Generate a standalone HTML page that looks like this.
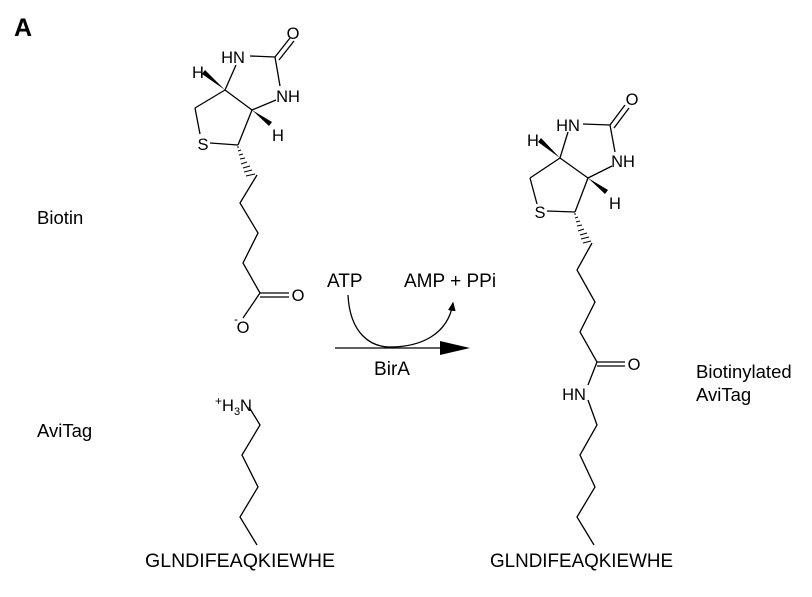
<!DOCTYPE html>
<html><head><style>
body{margin:0;background:#fff;}
svg text{font-family:"Liberation Sans",sans-serif;fill:#000;}
</style></head><body>
<svg width="812" height="592" viewBox="0 0 812 592" xmlns="http://www.w3.org/2000/svg">
<defs><marker id="ah" markerWidth="8" markerHeight="8" refX="6" refY="4" orient="auto"><path d="M0,1 L7,4 L0,7 z" fill="#000"/></marker></defs>
<text x="14" y="36" font-size="25" font-weight="bold">A</text>
<text x="37" y="224" font-size="18.5">Biotin</text>
<text x="37" y="437" font-size="18.5">AviTag</text>
<text x="696" y="378" font-size="18.5">Biotinylated</text>
<text x="696" y="401" font-size="18.5">AviTag</text>

<g stroke="#000" stroke-width="1.3" fill="none">
<line x1="250" y1="56" x2="275" y2="57"/>
<line x1="275" y1="57" x2="290" y2="38"/><line x1="279" y1="60" x2="294" y2="41"/>
<line x1="275" y1="57" x2="280" y2="86"/>
<line x1="276" y1="100" x2="252" y2="110"/>
<line x1="225" y1="90" x2="236" y2="65"/>
<line x1="225" y1="90" x2="252" y2="110"/>
<line x1="225" y1="90" x2="195" y2="108"/>
<line x1="195" y1="108" x2="200" y2="134"/>
<line x1="210" y1="143" x2="238" y2="145"/>
<line x1="252" y1="110" x2="238" y2="145"/>
<polyline points="257,175 240,203 258,233 243,263 260,293 243,318"/>
<line x1="260" y1="293" x2="289" y2="293"/><line x1="260" y1="297" x2="289" y2="297"/>
<line x1="583" y1="124" x2="610" y2="125"/>
<line x1="610" y1="125" x2="625" y2="105"/><line x1="614" y1="128" x2="629" y2="108"/>
<line x1="610" y1="125" x2="615" y2="152"/>
<line x1="612" y1="166" x2="588" y2="178"/>
<line x1="560" y1="158" x2="568" y2="132"/>
<line x1="560" y1="158" x2="588" y2="178"/>
<line x1="560" y1="158" x2="530" y2="178"/>
<line x1="530" y1="178" x2="537" y2="204"/>
<line x1="547" y1="211" x2="575" y2="212"/>
<line x1="588" y1="178" x2="575" y2="212"/>
<polyline points="592,243 577,270 595,302 580,332 597,362 588,385"/>
<line x1="597" y1="362" x2="625" y2="362"/><line x1="597" y1="366" x2="625" y2="366"/>
<polyline points="588,400 597,425 580,455 595,487 577,517 594,545"/>
<polyline points="249,407 260,425 242,455 258,487 240,517 257,545"/>
<line x1="335" y1="348" x2="448" y2="348"/>
<path d="M348,295 C350,335 372,347 390,347 C420,347 448,335 453,303" marker-end="url(#ah)"/>
</g>
<path d="M440,341 L470,348 L440,355 z" fill="#000"/>
<path d="M225,90 L202,74 L205,70 z" fill="#000"/>
<path d="M252,110 L272,122 L269,126 z" fill="#000"/>
<path d="M560,158 L538,142 L541,138 z" fill="#000"/>
<path d="M588,178 L608,190 L605,194 z" fill="#000"/>
<g stroke="#000" stroke-width="1">
<line x1="239" y1="147" x2="237" y2="147"/><line x1="241" y1="150" x2="238" y2="151"/><line x1="243" y1="154" x2="239" y2="155"/><line x1="245" y1="158" x2="240" y2="159"/><line x1="247" y1="162" x2="241" y2="164"/><line x1="250" y1="166" x2="243" y2="168"/><line x1="252" y1="170" x2="244" y2="172"/><line x1="255" y1="174" x2="246" y2="176"/>
<line x1="576" y1="214" x2="574" y2="214"/><line x1="578" y1="217" x2="575" y2="218"/><line x1="580" y1="221" x2="576" y2="222"/><line x1="582" y1="225" x2="577" y2="226"/><line x1="584" y1="229" x2="578" y2="231"/><line x1="587" y1="233" x2="580" y2="235"/><line x1="589" y1="237" x2="581" y2="239"/><line x1="591" y1="241" x2="583" y2="243"/>
</g>
<g font-size="16.5">
<text x="233" y="63" text-anchor="middle">HN</text>
<text x="293" y="39" text-anchor="middle">O</text>
<text x="288" y="102" text-anchor="middle">NH</text>
<text x="198" y="78" text-anchor="middle">H</text>
<text x="278" y="141" text-anchor="middle">H</text>
<text x="203" y="150" text-anchor="middle">S</text>
<text x="298" y="301" text-anchor="middle">O</text>
<text x="243" y="333" text-anchor="middle">O</text>
<text x="234" y="323" font-size="12">-</text>
<text x="568" y="131" text-anchor="middle">HN</text>
<text x="632" y="105" text-anchor="middle">O</text>
<text x="623" y="167" text-anchor="middle">NH</text>
<text x="533" y="146" text-anchor="middle">H</text>
<text x="615" y="209" text-anchor="middle">H</text>
<text x="540" y="218" text-anchor="middle">S</text>
<text x="634" y="370" text-anchor="middle">O</text>
<text x="574" y="400" text-anchor="middle">HN</text>
<text x="215" y="405" font-size="12">+</text>
<text x="222" y="411">H</text><text x="234" y="415" font-size="11">3</text><text x="240" y="411">N</text>
</g>
<text x="327" y="287" font-size="19">ATP</text>
<text x="404" y="287" font-size="19">AMP + PPi</text>
<text x="392" y="375" font-size="19" text-anchor="middle">BirA</text>
<text x="145" y="567" font-size="19" textLength="190" lengthAdjust="spacingAndGlyphs">GLNDIFEAQKIEWHE</text>
<text x="490" y="567" font-size="19" textLength="183" lengthAdjust="spacingAndGlyphs">GLNDIFEAQKIEWHE</text>
</svg>
</body></html>
